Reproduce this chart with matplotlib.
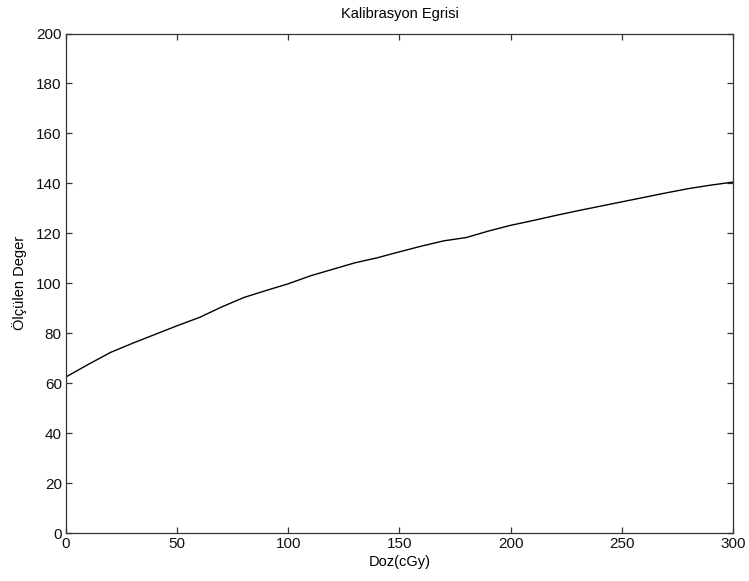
import matplotlib
matplotlib.use("Agg")
import matplotlib.pyplot as plt

plt.rcParams['font.family'] = ['Liberation Sans', 'DejaVu Sans']

# Calibration curve: dose (cGy) vs measured value
doz = [0, 10, 20, 30, 40, 50, 60, 70, 80, 90, 100, 110, 120, 130, 140, 150,
       160, 170, 180, 190, 200, 210, 220, 230, 240, 250, 260, 270, 280, 290, 300]
olculen = [62.5, 67.5, 72.3, 76.0, 79.5, 83.0, 86.3, 90.5, 94.3, 97.1, 99.8,
           103.0, 105.6, 108.2, 110.2, 112.6, 114.9, 117.0, 118.3, 120.9, 123.2,
           125.1, 127.1, 129.0, 130.8, 132.6, 134.4, 136.2, 137.9, 139.3, 140.5]

xticks = [0, 50, 100, 150, 200, 250, 300]
yticks = [0, 20, 40, 60, 80, 100, 120, 140, 160, 180, 200]

fig = plt.figure(figsize=(7.49, 5.81), dpi=100)
ax = fig.add_axes([0.0881, 0.0826, 0.8905, 0.8597])

ax.plot(doz, olculen, color='black', linewidth=1.0)

ax.set_xlim(0, 300)
ax.set_ylim(0, 200)
ax.set_xticks(xticks)
ax.set_yticks(yticks)

axis_color = '#333333'
for side in ax.spines.values():
    side.set_color(axis_color)
    side.set_linewidth(0.9)
ax.tick_params(direction='in', length=4.5, width=0.9, colors=axis_color,
               labelcolor='#111111', labelsize=11, top=True, right=True, pad=3)

ax.set_title('Kalibrasyon Egrisi', fontsize=10.5, pad=11)
ax.set_xlabel('Doz(cGy)', fontsize=10.5, labelpad=3)
ax.set_ylabel('Ölçülen Deger', fontsize=10.5, labelpad=7)

fig.savefig('out.png', dpi=100)
